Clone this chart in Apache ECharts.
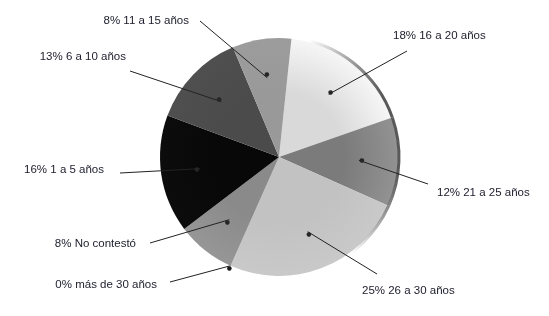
<!DOCTYPE html>
<html>
<head>
<meta charset="utf-8">
<script src="https://cdn.jsdelivr.net/npm/echarts@6/dist/echarts.min.js"></script>
<style>
  html, body { margin: 0; padding: 0; background: #ffffff; }
  #chart { width: 549px; height: 316px; }
</style>
</head>
<body>
<div id="chart"></div>
<script>
// Antigüedad: categories in clockwise order, starting just right of 12 o'clock
const categories = ['16 a 20 años', '21 a 25 años', '26 a 30 años', 'más de 30 años',
                    'No contestó', '1 a 5 años', '6 a 10 años', '11 a 15 años'];
const shares = [18, 12, 25, 0, 8, 16, 13, 8];

// grey shades for each slice (inner tone, outer tone)
const innerTones = ['#d9d9d9', '#7b7b7b', '#c2c2c2', '#8a8a8a', '#8a8a8a', '#080808', '#4b4b4b', '#999999'];
const outerTones = ['#f6f6f6', '#929292', '#c9c9c9', '#8e8e8e', '#969696', '#0c0c0c', '#4f4f4f', '#9c9c9c'];

// label placement: [x, y, align] and where each leader line ends
const labelSpots = [
  [393, 36, 'left'], [437, 193, 'left'], [362, 291, 'left'], [157, 285, 'right'],
  [136, 244, 'right'], [104, 170, 'right'], [126, 57, 'right'], [189, 21, 'right']
];
const leaderEnds = [
  [407, 51], [428, 184], [377, 274], [170, 282],
  [150, 243], [120, 173], [130, 71], [200, 21]
];

const CX = 279, CY = 157, R = 119, R_DOT = 80;
const ZERO = shares.map(v => v === 0);

const chart = echarts.init(document.getElementById('chart'), null, { renderer: 'canvas' });

function gradientFor(i) {
  return new echarts.graphic.RadialGradient(CX, CY, R, [
    { offset: 0, color: innerTones[i] },
    { offset: 0.55, color: innerTones[i] },
    { offset: 1, color: outerTones[i] }
  ], true);
}

const labelStyle = {
  fontFamily: '"Liberation Sans", Arial, sans-serif',
  fontSize: 11.5,
  color: '#1c1c2c',
  formatter: p => p.value + '% ' + p.name
};

function placeLabel(params) {
  const i = params.dataIndex;
  const spot = labelSpots[i];
  const start = params.labelLinePoints ? params.labelLinePoints[0] : leaderEnds[i];
  return {
    x: spot[0],
    y: spot[1],
    align: spot[2],
    verticalAlign: 'middle',
    labelLinePoints: [start, start, leaderEnds[i]]
  };
}

const lineStyle = { color: '#222', width: 1 };

const baseSeries = {
  type: 'pie',
  center: [CX, CY],
  startAngle: 84,
  clockwise: true,
  avoidLabelOverlap: false,
  animation: false,
  emphasis: { disabled: true }
};

chart.setOption({
  backgroundColor: '#ffffff',
  series: [
    // the pie itself; only the empty slice takes its leader from the rim
    Object.assign({}, baseSeries, {
      name: 'slices',
      z: 2,
      radius: [0, R],
      data: categories.map((c, i) => ({
        name: c,
        value: shares[i],
        itemStyle: { color: gradientFor(i) },
        label: { show: ZERO[i] },
        labelLine: { show: ZERO[i] }
      })),
      label: labelStyle,
      labelLine: { lineStyle: lineStyle, length: 5, length2: 5 },
      labelLayout: placeLabel
    }),
    // shaded edge on the right side of the disc
    Object.assign({}, baseSeries, {
      name: 'edge',
      z: 3,
      silent: true,
      radius: [R - 0.5, R + 2.5],
      data: categories.map((c, i) => ({ name: c, value: shares[i] })),
      itemStyle: {
        color: new echarts.graphic.LinearGradient(CX + 0.45 * R, CY, CX + 0.95 * R, CY - 0.1 * R, [
          { offset: 0, color: 'rgba(110,110,110,0)' },
          { offset: 0.5, color: 'rgba(100,100,100,0.5)' },
          { offset: 1, color: 'rgba(80,80,80,0.95)' }
        ], true)
      },
      label: { show: false },
      labelLine: { show: false }
    }),
    // leader lines for the other slices start inside the slice
    Object.assign({}, baseSeries, {
      name: 'leaders',
      z: 6,
      silent: true,
      radius: [0, R_DOT],
      itemStyle: { color: 'rgba(0,0,0,0)' },
      data: categories.map((c, i) => ({
        name: c,
        value: shares[i],
        label: { show: !ZERO[i] },
        labelLine: { show: !ZERO[i] }
      })),
      label: labelStyle,
      labelLine: { lineStyle: lineStyle, length: 5, length2: 5 },
      labelLayout: placeLabel
    }),
    // dots at the inner end of each leader line
    Object.assign({}, baseSeries, {
      name: 'dots',
      z: 7,
      silent: true,
      radius: [R_DOT - 3, R_DOT + 3],
      itemStyle: { color: 'rgba(0,0,0,0)' },
      data: categories.map((c, i) => ({ name: c, value: shares[i], label: { show: !ZERO[i] } })),
      label: {
        position: 'inside', formatter: '\u25CF', fontFamily: 'DejaVu Sans',
        fontSize: 6, color: '#262626'
      },
      labelLine: { show: false }
    }),
    Object.assign({}, baseSeries, {
      name: 'rimDots',
      z: 7,
      silent: true,
      radius: [R - 3, R + 3],
      itemStyle: { color: 'rgba(0,0,0,0)' },
      data: categories.map((c, i) => ({ name: c, value: shares[i], label: { show: ZERO[i] } })),
      label: {
        position: 'inside', formatter: '\u25CF', fontFamily: 'DejaVu Sans',
        fontSize: 6, color: '#1a1a1a'
      },
      labelLine: { show: false }
    })
  ]
});
</script>
</body>
</html>
